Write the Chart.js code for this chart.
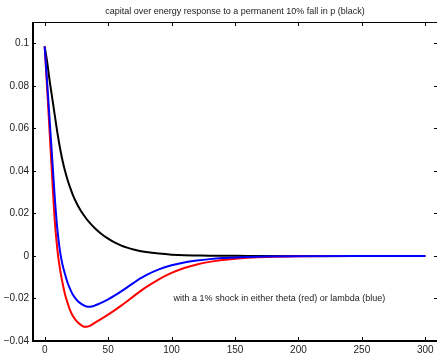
<!DOCTYPE html>
<html>
<head>
<meta charset="utf-8">
<script src="https://cdn.jsdelivr.net/npm/chart.js@4"></script>
<style>
  html, body { margin: 0; padding: 0; background: #fff; overflow: hidden; }
  canvas { display: block; }
</style>
</head>
<body>
<canvas id="chart" width="440" height="353"></canvas>
<script>
// periods and the three responses
const periods = [0,2,4,6,8,10,12,14,16,18,20,22,25,28,31,34,37,40,44,50,55,60,65,70,75,80,90,100,110,120,130,140,150,160,175,200,250,300];

const blackResp = [0.0985,0.091,0.082,0.074,0.066,0.058,0.051,0.045,0.040,0.0358,0.0322,0.029,0.025,0.0217,0.019,0.0166,0.0146,0.0128,0.0107,0.0081,0.0064,0.005,0.0039,0.003,0.0023,0.0018,0.0011,0.0006,0.0003,0.0002,0.0001,0.00006,0.00004,0.00002,0.00001,0,0,0];

const redResp = [0.0985,0.078,0.057,0.036,0.016,0.003,-0.006,-0.0125,-0.018,-0.022,-0.0255,-0.028,-0.0305,-0.0322,-0.0333,-0.0332,-0.0324,-0.0312,-0.0298,-0.0276,-0.0256,-0.0235,-0.0213,-0.019,-0.0168,-0.0147,-0.011,-0.008,-0.0057,-0.004,-0.0028,-0.0019,-0.0013,-0.0009,-0.0005,-0.0002,0,0];

const blueResp = [0.0985,0.081,0.063,0.045,0.027,0.0125,0.0025,-0.004,-0.0085,-0.0125,-0.0155,-0.018,-0.0205,-0.0222,-0.0233,-0.0239,-0.0238,-0.0232,-0.0222,-0.0204,-0.0187,-0.0168,-0.0148,-0.0127,-0.0107,-0.009,-0.0063,-0.0044,-0.0031,-0.0022,-0.0015,-0.001,-0.0007,-0.0005,-0.0003,-0.0001,0,0];

const xTicks = [0,50,100,150,200,250,300];
const yTicks = [-0.04,-0.02,0,0.02,0.04,0.06,0.08,0.1];

const titleText = "capital over energy response to a permanent 10% fall in p (black)";
const noteText = "with a 1% shock in either theta (red) or lambda (blue)";

const FONT = "'Liberation Sans', Arial, Helvetica, sans-serif";

function toPoints(ys) {
  return periods.map((p, i) => ({ x: p, y: ys[i] }));
}

// matlab style box with inward ticks, title over the axes and the text note
const boxPlugin = {
  id: 'matlabBox',
  afterDatasetsDraw(chart) {
    const { ctx, chartArea: a, scales: { x, y } } = chart;
    ctx.save();
    ctx.strokeStyle = '#000';
    // top & right thin
    ctx.lineWidth = 1;
    ctx.beginPath();
    ctx.moveTo(a.left, a.top + 0.5);
    ctx.lineTo(a.right, a.top + 0.5);
    ctx.moveTo(a.right - 0.5, a.top);
    ctx.lineTo(a.right - 0.5, a.bottom);
    ctx.stroke();
    // ticks
    const len = 4;
    ctx.beginPath();
    xTicks.forEach(v => {
      const px = Math.round(x.getPixelForValue(v)) + 0.5;
      ctx.moveTo(px, a.top); ctx.lineTo(px, a.top + len);
      ctx.moveTo(px, a.bottom); ctx.lineTo(px, a.bottom - len);
    });
    yTicks.forEach(v => {
      const py = Math.round(y.getPixelForValue(v)) + 0.5;
      ctx.moveTo(a.left, py); ctx.lineTo(a.left + len, py);
      ctx.moveTo(a.right, py); ctx.lineTo(a.right - len, py);
    });
    ctx.stroke();
    // left & bottom thick
    ctx.lineWidth = 2;
    ctx.beginPath();
    ctx.moveTo(a.left + 1, a.top);
    ctx.lineTo(a.left + 1, a.bottom);
    ctx.moveTo(a.left, a.bottom);
    ctx.lineTo(a.right, a.bottom);
    ctx.stroke();

    ctx.fillStyle = '#222';
    ctx.font = '9px ' + FONT;
    ctx.textAlign = 'center';
    ctx.textBaseline = 'middle';
    ctx.fillText(titleText, (a.left + a.right) / 2, 12);
    ctx.fillText(noteText, x.getPixelForValue(185), y.getPixelForValue(-0.02));
    ctx.restore();
  }
};

new Chart(document.getElementById('chart'), {
  type: 'line',
  data: {
    datasets: [
      { label: 'lambda', data: toPoints(blueResp), borderColor: '#0000ff' },
      { label: 'theta', data: toPoints(redResp), borderColor: '#ff0000' },
      { label: 'p', data: toPoints(blackResp), borderColor: '#000000' }
    ]
  },
  options: {
    responsive: false,
    animation: false,
    layout: { padding: { left: 0, right: 2, top: 22, bottom: 0 } },
    elements: {
      point: { radius: 0 },
      line: { borderWidth: 2, cubicInterpolationMode: 'monotone', fill: false }
    },
    plugins: {
      legend: { display: false },
      tooltip: { enabled: false },
      title: { display: false }
    },
    scales: {
      x: {
        type: 'linear',
        min: -10,
        max: 310,
        grid: { display: false, drawTicks: false },
        border: { display: false },
        afterBuildTicks: s => { s.ticks = xTicks.map(v => ({ value: v })); },
        afterFit: s => { s.height = 12; },
        ticks: {
          color: '#222',
          padding: 3,
          maxRotation: 0,
          font: { family: FONT, size: 10 },
          callback: v => String(v)
        }
      },
      y: {
        type: 'linear',
        min: -0.04,
        max: 0.11,
        grid: { display: false, drawTicks: false },
        border: { display: false },
        afterBuildTicks: s => { s.ticks = yTicks.map(v => ({ value: v })); },
        afterFit: s => { s.width = 32; },
        ticks: {
          color: '#222',
          padding: 3,
          font: { family: FONT, size: 10 },
          callback: v => {
            const r = Math.round(v * 100) / 100;
            return r < 0 ? '\u2212' + String(-r) : String(r);
          }
        }
      }
    }
  },
  plugins: [boxPlugin]
});
</script>
</body>
</html>
